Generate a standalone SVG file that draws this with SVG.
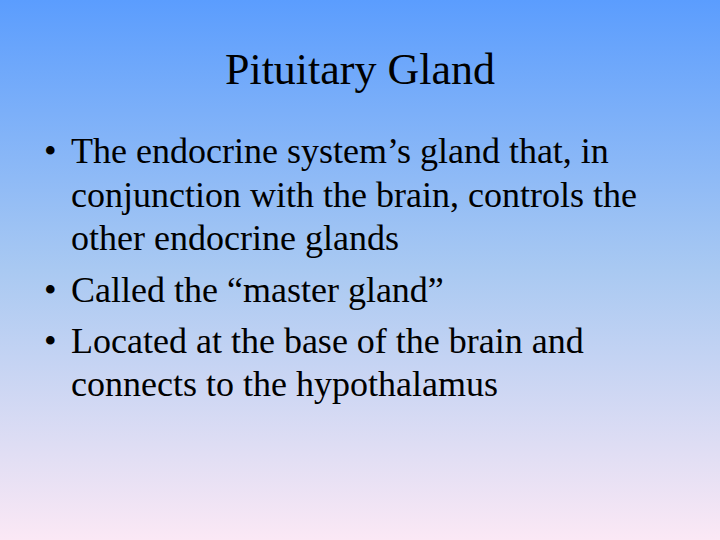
<svg xmlns="http://www.w3.org/2000/svg" width="720" height="540" viewBox="0 0 720 540">
<defs>
<linearGradient id="bg" x1="0" y1="0" x2="0" y2="1">
<stop offset="0" stop-color="#5b9dfe"/>
<stop offset="0.5" stop-color="#a9c9f2"/>
<stop offset="1" stop-color="#fbe8f5"/>
</linearGradient>
<style>
text{font-family:"Liberation Serif",serif;fill:#000}
.t{font-size:44px}
.b{font-size:36px}
</style>
</defs>
<rect width="720" height="540" fill="url(#bg)"/>
<g id="title"><text class="t" x="360" y="84" text-anchor="middle">Pituitary Gland</text></g>
<g id="bullets">
<text class="b" x="44" y="163">•</text>
<text class="b" x="71" y="163">The endocrine system’s gland that, in</text>
<text class="b" x="71" y="207">conjunction with the brain, controls the</text>
<text class="b" x="71" y="250">other endocrine glands</text>
<text class="b" x="44" y="302">•</text>
<text class="b" x="71" y="302">Called the “master gland”</text>
<text class="b" x="44" y="353">•</text>
<text class="b" x="71" y="353">Located at the base of the brain and</text>
<text class="b" x="71" y="396">connects to the hypothalamus</text>
</g>
</svg>
